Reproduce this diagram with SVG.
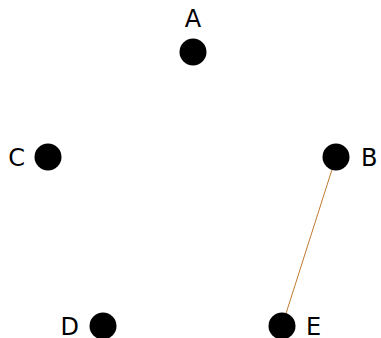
<svg xmlns="http://www.w3.org/2000/svg" width="381" height="338" viewBox="0 0 381 338">
<style>
.n{fill:#000}
.t{font-family:"DejaVu Sans",sans-serif;font-size:24px;fill:#000}
.e{stroke:#c07a30;stroke-width:1;fill:none}
</style>
<rect width="381" height="338" fill="#fff"/>
<g id="edges"><line class="e" x1="336" y1="157" x2="282" y2="326"/></g>
<g id="A"><circle class="n" cx="193" cy="52" r="13.5"/><text class="t" x="193" y="27" text-anchor="middle">A</text></g>
<g id="B"><circle class="n" cx="336" cy="157" r="13.5"/><text class="t" x="361" y="166">B</text></g>
<g id="C"><circle class="n" cx="48" cy="157" r="13.5"/><text class="t" x="25" y="166" text-anchor="end">C</text></g>
<g id="D"><circle class="n" cx="103" cy="326" r="13.5"/><text class="t" x="79" y="335" text-anchor="end">D</text></g>
<g id="E"><circle class="n" cx="282" cy="326" r="13.5"/><text class="t" x="306" y="335">E</text></g>
</svg>
